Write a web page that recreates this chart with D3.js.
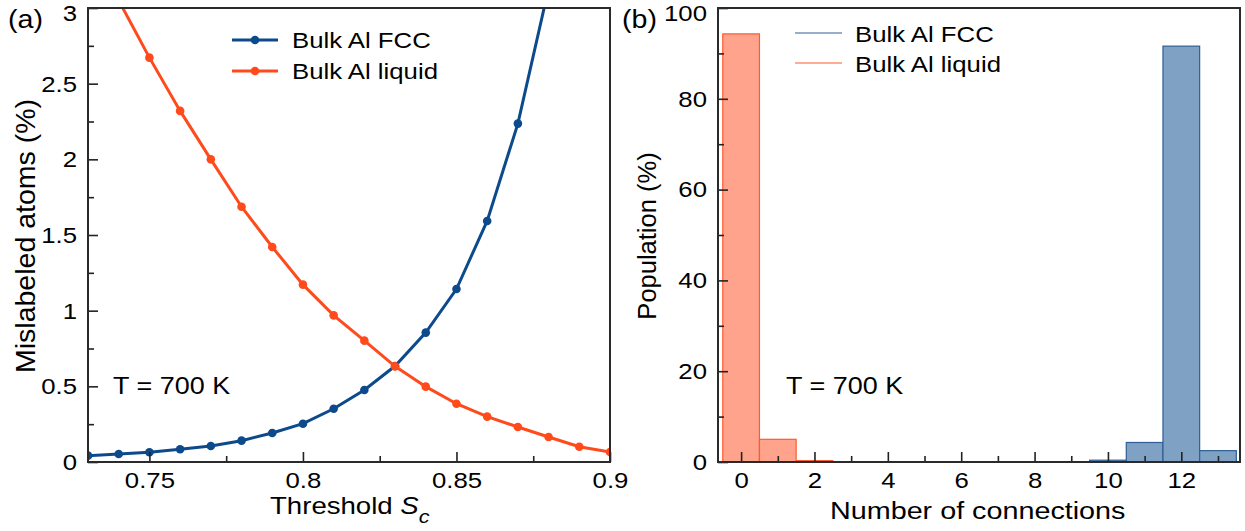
<!DOCTYPE html>
<html>
<head>
<meta charset="utf-8">
<script src="https://cdn.jsdelivr.net/npm/d3@7"></script>
<style>
  body { margin: 0; background: #fff; }
  svg text { font-family: "Liberation Sans", Arial, Helvetica, sans-serif; fill: #000; }
</style>
</head>
<body>
<svg id="chart" width="1245" height="531"></svg>
<script>
// ---- data (a): mislabeled atoms vs threshold
const thresholds = [0.73, 0.74, 0.75, 0.76, 0.77, 0.78, 0.79, 0.80, 0.81, 0.82, 0.83, 0.84, 0.85, 0.86, 0.87, 0.88, 0.89, 0.90];
const fccMislabeled = [0.042, 0.053, 0.064, 0.084, 0.106, 0.141, 0.192, 0.253, 0.352, 0.476, 0.634, 0.855, 1.143, 1.593, 2.236, 3.13];
const liquidMislabeled = [3.45, 3.05, 2.672, 2.32, 2.0, 1.687, 1.421, 1.172, 0.969, 0.802, 0.632, 0.498, 0.385, 0.300, 0.231, 0.165, 0.101, 0.066];
const ticksA_x = [0.75, 0.8, 0.85, 0.9];
const minorA_x = [0.775, 0.825, 0.875];
const ticksA_y = [0, 0.5, 1, 1.5, 2, 2.5, 3];
const minorA_y = [0.25, 0.75, 1.25, 1.75, 2.25, 2.75];

// ---- data (b): population vs number of connections
const liquidConnections = [0, 1, 2];
const liquidPopulation = [94.3, 5.0, 0.3];
const fccConnections = [10, 11, 12, 13];
const fccPopulation = [0.4, 4.3, 91.6, 2.5];
const ticksB_x = [0, 2, 4, 6, 8, 10, 12];
const minorB_x = [1, 3, 5, 7, 9, 11, 13];
const ticksB_y = [0, 20, 40, 60, 80, 100];
const minorB_y = [10, 30, 50, 70, 90];

const seriesNames = ["Bulk Al FCC", "Bulk Al liquid"];
const blue = "#0c4a8c", red = "#ff4a1c";

const svg = d3.select("#chart");
const FS = 23, SX = 1.12;

// horizontal stretch of text, keeping its anchor point
function stretch(sel, sx) {
  sel.each(function () {
    const t = d3.select(this);
    const x = +t.attr("x") || 0, y = +t.attr("y") || 0;
    t.attr("x", 0).attr("y", 0).attr("transform", `translate(${x},${y}) scale(${sx},1)`);
  });
}

function drawAxes(g, x, y, tx, mx, ty, my, fmtX, fmtY) {
  const [x0, x1] = x.range(), [y0, y1] = y.range();
  const xa = g.append("g").attr("transform", `translate(0,${y0})`)
    .call(d3.axisBottom(x).tickValues(tx).tickSize(-10).tickPadding(10).tickFormat(fmtX));
  g.append("g").attr("transform", `translate(0,${y0})`)
    .call(d3.axisBottom(x).tickValues(mx).tickSize(-6).tickFormat(""));
  const ya = g.append("g").attr("transform", `translate(${x0},0)`)
    .call(d3.axisLeft(y).tickValues(ty).tickSize(-10).tickPadding(11).tickFormat(fmtY));
  g.append("g").attr("transform", `translate(${x0},0)`)
    .call(d3.axisLeft(y).tickValues(my).tickSize(-6).tickFormat(""));
  g.selectAll(".domain").remove();
  g.selectAll(".tick line").attr("stroke", "#222").attr("stroke-width", 1.6);
  g.selectAll(".tick text").attr("font-size", FS).attr("font-family", null).attr("fill", "#000");
  // keep the top label inside the picture
  ya.selectAll(".tick text").filter(d => d === ty[ty.length - 1]).attr("y", 5);
  stretch(xa.selectAll(".tick text"), SX);
  stretch(ya.selectAll(".tick text"), SX);
  g.append("rect").attr("x", x0).attr("y", y1).attr("width", x1 - x0).attr("height", y0 - y1)
    .attr("fill", "none").attr("stroke", "#2a2a2a").attr("stroke-width", 2);
}

// ===================== panel (a) =====================
const xA = d3.scaleLinear().domain([0.73, 0.9]).range([88, 610]);
const yA = d3.scaleLinear().domain([0, 3]).range([462, 8]);
const gA = svg.append("g");

svg.append("defs").append("clipPath").attr("id", "clipA")
  .append("rect").attr("x", 88).attr("y", 8).attr("width", 522).attr("height", 454);

const line = d3.line().x(d => xA(d[0])).y(d => yA(d[1]));
const fccPts = fccMislabeled.map((v, i) => [thresholds[i], v]);
const liqPts = liquidMislabeled.map((v, i) => [thresholds[i], v]);
const plotA = gA.append("g").attr("clip-path", "url(#clipA)");
[[fccPts, blue], [liqPts, red]].forEach(([pts, c]) => {
  plotA.append("path").datum(pts).attr("d", line).attr("fill", "none")
    .attr("stroke", c).attr("stroke-width", 3);
  plotA.selectAll(null).data(pts).enter().append("circle")
    .attr("cx", d => xA(d[0])).attr("cy", d => yA(d[1])).attr("r", 4.3).attr("fill", c);
});

drawAxes(gA, xA, yA, ticksA_x, minorA_x, ticksA_y, minorA_y, d3.format("~g"), d3.format("~g"));

// legend (a)
[blue, red].forEach((c, i) => {
  const ly = 40 + i * 31;
  gA.append("line").attr("x1", 232).attr("x2", 278).attr("y1", ly).attr("y2", ly)
    .attr("stroke", c).attr("stroke-width", 3);
  gA.append("circle").attr("cx", 255).attr("cy", ly).attr("r", 4.3).attr("fill", c);
  gA.append("text").attr("x", 292).attr("y", ly + 8).attr("font-size", FS).text(seriesNames[i])
    .call(stretch, SX);
});

gA.append("text").attr("x", 113).attr("y", 394).attr("font-size", 24.5).text("T = 700 K").call(stretch, 1.1);
gA.append("text").attr("x", 8).attr("y", 28).attr("font-size", 26).text("(a)").call(stretch, 1.1);

gA.append("text").attr("transform", "translate(35,236) rotate(-90)").attr("text-anchor", "middle")
  .attr("font-size", 28.5).text("Mislabeled atoms (%)");

const tA = gA.append("text").attr("x", 270).attr("y", 514).attr("font-size", 23);
tA.append("tspan").text("Threshold ");
tA.append("tspan").attr("font-style", "italic").text("S");
tA.append("tspan").attr("font-style", "italic").attr("font-size", 18).attr("dy", 9).text("c");
tA.call(stretch, 1.2);

// ===================== panel (b) =====================
const xB = d3.scaleLinear().domain([-0.63, 13.6]).range([718, 1240]);
const yB = d3.scaleLinear().domain([0, 100]).range([462, 8]);
const gB = svg.append("g");

gB.selectAll(null).data(liquidConnections).enter().append("rect")
  .attr("x", d => xB(d - 0.5)).attr("width", d => xB(d + 0.5) - xB(d - 0.5))
  .attr("y", (d, i) => yB(liquidPopulation[i])).attr("height", (d, i) => yB(0) - yB(liquidPopulation[i]))
  .attr("fill", "#ffa38c").attr("stroke", "#ff5a2e").attr("stroke-width", 1.2);
gB.selectAll(null).data(fccConnections).enter().append("rect")
  .attr("x", d => xB(d - 0.5)).attr("width", d => xB(d + 0.5) - xB(d - 0.5))
  .attr("y", (d, i) => yB(fccPopulation[i])).attr("height", (d, i) => yB(0) - yB(fccPopulation[i]))
  .attr("fill", "#7fa2c4").attr("stroke", "#2f5f95").attr("stroke-width", 1.2);

drawAxes(gB, xB, yB, ticksB_x, minorB_x, ticksB_y, minorB_y, d3.format("d"), d3.format("d"));

// legend (b)
["#2f5f95", "#ff5a2e"].forEach((c, i) => {
  const ly = 33 + i * 30;
  gB.append("line").attr("x1", 795).attr("x2", 842).attr("y1", ly).attr("y2", ly)
    .attr("stroke", c).attr("stroke-width", 1.2);
  gB.append("text").attr("x", 855).attr("y", ly + 9).attr("font-size", FS).text(seriesNames[i])
    .call(stretch, SX);
});

gB.append("text").attr("x", 786).attr("y", 394).attr("font-size", 24.5).text("T = 700 K").call(stretch, 1.1);
gB.append("text").attr("x", 622).attr("y", 28).attr("font-size", 26).text("(b)").call(stretch, 1.1);

gB.append("text").attr("transform", "translate(656,236) rotate(-90)").attr("text-anchor", "middle")
  .attr("font-size", 25.5).text("Population (%)");

gB.append("text").attr("x", 830).attr("y", 519).attr("font-size", 23).text("Number of connections")
  .call(stretch, 1.25);
</script>
</body>
</html>
